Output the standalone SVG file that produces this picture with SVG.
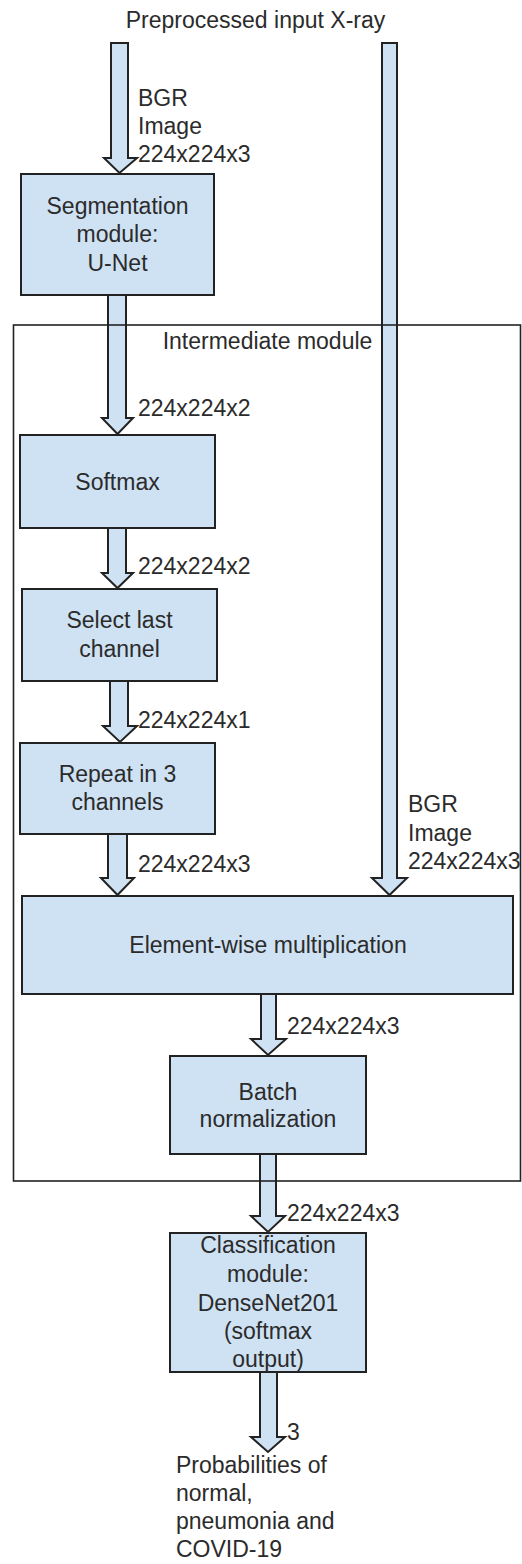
<svg xmlns="http://www.w3.org/2000/svg" width="522" height="1564" viewBox="0 0 522 1564">
<style>
text{font-family:"Liberation Sans",Arial,sans-serif;font-size:23px;fill:#2b2b2b}
.c{text-anchor:middle}
.box{fill:#cfe2f3;stroke:#222;stroke-width:2}
.arr{fill:#cfe2f3;stroke:#222;stroke-width:2;stroke-linejoin:miter}
.frame{fill:none;stroke:#222;stroke-width:1.6}
</style>
<rect width="522" height="1564" fill="#fff"/>
<g id="title"><text class="c" x="255.5" y="28">Preprocessed input X-ray</text></g>
<g id="connectors">
<polygon class="arr" points="111,43 128,43 128,158 137,158 119.5,173 104,158 111,158"/>
<polygon class="arr" points="108,295 126,295 126,418 133,418 117.5,434 102,418 108,418"/>
<polygon class="arr" points="108,528 126,528 126,573 133,573 117.5,588 102,573 108,573"/>
<polygon class="arr" points="110,681 128,681 128,726 137,726 120,742 103,726 110,726"/>
<polygon class="arr" points="108,834 127,834 127,878 134,878 117.5,895 101,878 108,878"/>
<polygon class="arr" points="382,43 397,43 397,878 407,878 389.5,895 372,878 382,878"/>
<polygon class="arr" points="261,994 276,994 276,1039 286,1039 268,1055 251,1039 261,1039"/>
<polygon class="arr" points="260,1154 276,1154 276,1216 285,1216 268,1232 251,1216 260,1216"/>
<polygon class="arr" points="260,1372 277,1372 277,1437 285,1437 268,1452 251,1437 260,1437"/>
<text x="138" y="106">BGR</text>
<text x="138" y="134">Image</text>
<text x="138" y="162">224x224x3</text>
<text x="138" y="416">224x224x2</text>
<text x="138" y="574">224x224x2</text>
<text x="138" y="728">224x224x1</text>
<text x="138" y="872">224x224x3</text>
<text x="408" y="812">BGR</text>
<text x="408" y="841">Image</text>
<text x="408" y="869">224x224x3</text>
<text x="287" y="1034">224x224x3</text>
<text x="287" y="1221">224x224x3</text>
<text x="287" y="1440">3</text>
</g>
<g id="intermediate">
<rect class="frame" x="13.5" y="325" width="507" height="856"/>
<text class="c" x="267.5" y="349">Intermediate module</text>
</g>
<g id="segmentation">
<rect class="box" x="21" y="174" width="193" height="121"/>
<text class="c" x="117.5" y="214">Segmentation</text>
<text class="c" x="117.5" y="242">module:</text>
<text class="c" x="117.5" y="271">U-Net</text>
</g>
<g id="softmax">
<rect class="box" x="20" y="435" width="195" height="93"/>
<text class="c" x="117.5" y="490">Softmax</text>
</g>
<g id="select">
<rect class="box" x="22" y="589" width="195" height="92"/>
<text class="c" x="119.5" y="628">Select last</text>
<text class="c" x="119.5" y="657">channel</text>
</g>
<g id="repeat">
<rect class="box" x="20" y="743" width="195" height="91"/>
<text class="c" x="117.5" y="782">Repeat in 3</text>
<text class="c" x="117.5" y="810">channels</text>
</g>
<g id="multiply">
<rect class="box" x="22" y="896" width="491" height="98"/>
<text class="c" x="268" y="953">Element-wise multiplication</text>
</g>
<g id="batchnorm">
<rect class="box" x="170" y="1056" width="196" height="98"/>
<text class="c" x="268" y="1100">Batch</text>
<text class="c" x="268" y="1127">normalization</text>
</g>
<g id="classification">
<rect class="box" x="170" y="1233" width="196" height="139"/>
<text class="c" x="268" y="1253">Classification</text>
<text class="c" x="268" y="1282">module:</text>
<text class="c" x="268" y="1311">DenseNet201</text>
<text class="c" x="268" y="1339">(softmax</text>
<text class="c" x="268" y="1367">output)</text>
</g>
<g id="output">
<text x="176" y="1473">Probabilities of</text>
<text x="176" y="1501">normal,</text>
<text x="176" y="1529">pneumonia and</text>
<text x="176" y="1557">COVID-19</text>
</g>
</svg>
